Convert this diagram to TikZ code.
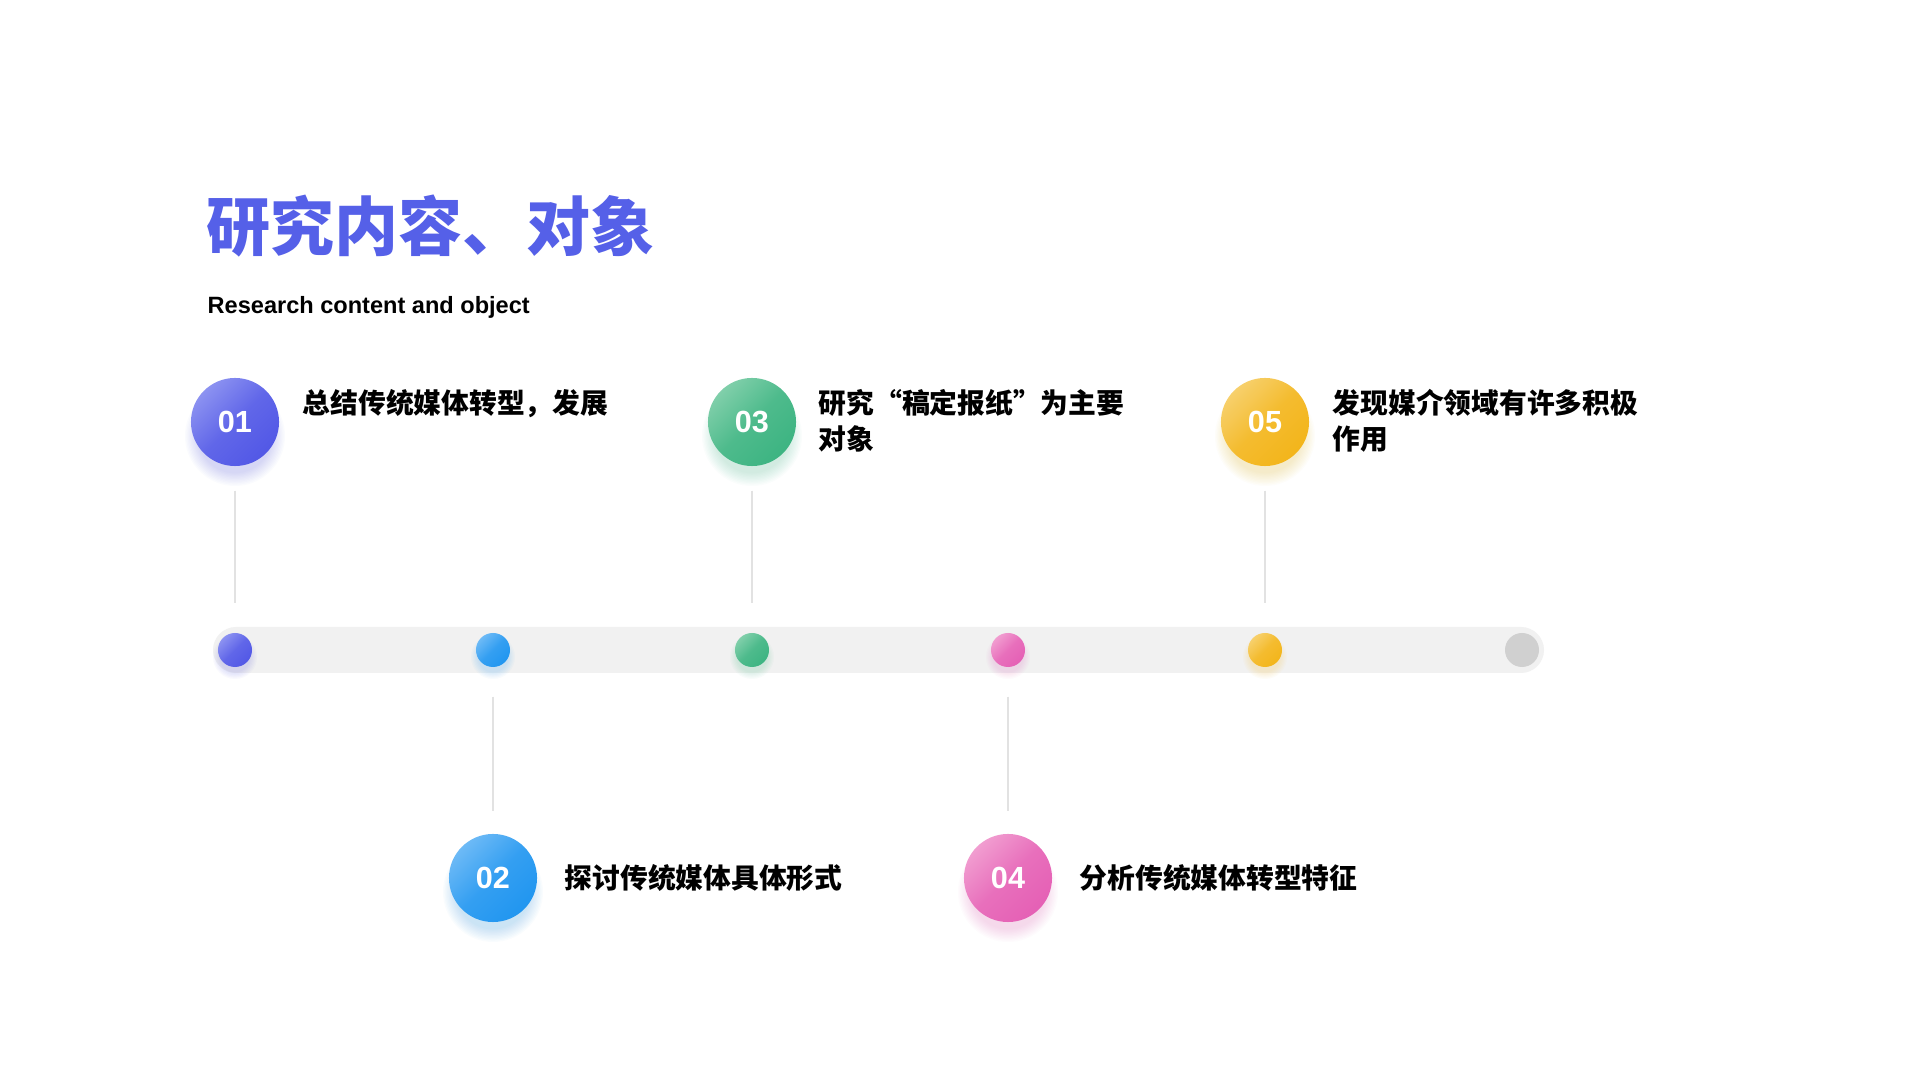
\documentclass[tikz,border=0pt]{standalone}
\usepackage{fontspec}
\setmainfont{Liberation Sans}
\newfontfamily\cjk{Noto Sans CJK SC}
\definecolor{titleblue}{HTML}{5560E8}
\definecolor{aD}{HTML}{5258E6}\definecolor{aL}{HTML}{8C92F1}
\definecolor{bD}{HTML}{2196F0}\definecolor{bL}{HTML}{6DBAF6}
\definecolor{cD}{HTML}{3DB482}\definecolor{cL}{HTML}{80CFAA}
\definecolor{dD}{HTML}{E560B5}\definecolor{dL}{HTML}{F19DD0}
\definecolor{eD}{HTML}{F3B51B}\definecolor{eL}{HTML}{F7D06C}
\definecolor{barfill}{HTML}{F1F1F1}
\definecolor{graydot}{HTML}{D0D0D0}
\definecolor{stemgray}{HTML}{E2E2E2}
\newcommand{\glowat}[4]{%
  \foreach \k in {0,...,9}{\fill[#4, opacity=0.025] (#1,#2) circle ({#3-\k*1.4});}}
\tikzset{
  numcircle/.style={circle, inner sep=0, minimum size=0.88cm, text=white,
    font=\fontsize{8.7}{9}\selectfont\bfseries},
  tdot/.style={circle, inner sep=0, minimum size=0.34cm},
  grad/.style n args={2}{shade, top color=#1, bottom color=#2, middle color=#2!75!#1, shading angle=45},
  stem/.style={draw=stemgray, line width=0.35pt},
  lbl/.style={inner sep=0, align=left, text=black,
    font=\cjk\bfseries\fontsize{7.9}{10.2}\selectfont},
}
\newcommand{\myLq}{\makebox[1em][r]{“}}
\newcommand{\myRq}{\makebox[1em][l]{”}}
\begin{document}
\begin{tikzpicture}[x=0.01cm, y=-0.01cm]
\useasboundingbox (0,0) rectangle (1920,1080);
\fill[white] (0,0) rectangle (1920,1080);

% title
\node[anchor=west, inner sep=0, text=titleblue, font=\cjk\bfseries\fontsize{18.2}{22}\selectfont] (title) at (206,226) {研究内容、对象};
\node[anchor=base west, inner sep=0, text=black, font=\fontsize{6.7}{8}\selectfont\bfseries] (subtitle) at (207,314) {Research content and object};

% timeline bar
\fill[barfill, rounded corners=0.23cm] (213,627) rectangle (1544,673);

% shadows
\glowat{235}{436}{50}{aD}
\glowat{493}{892}{50}{bD}
\glowat{752}{436}{50}{cD}
\glowat{1008}{892}{50}{dD}
\glowat{1265}{436}{50}{eD}
\foreach \xx/\cc in {235/aD,493/bD,752/cD,1008/dD,1265/eD}{
  \foreach \k in {0,...,5}{\fill[\cc, opacity=0.03] (\xx,657) circle ({22-\k*1.3});}}

% dots
\node[tdot, grad={aL}{aD}] (d1) at (235,650) {};
\node[tdot, grad={bL}{bD}] (d2) at (493,650) {};
\node[tdot, grad={cL}{cD}] (d3) at (752,650) {};
\node[tdot, grad={dL}{dD}] (d4) at (1008,650) {};
\node[tdot, grad={eL}{eD}] (d5) at (1265,650) {};
\node[tdot, fill=graydot] (d6) at (1522,650) {};

% number circles
\node[numcircle, grad={aL}{aD}] (n1) at (235,422) {01};
\node[numcircle, grad={bL}{bD}] (n2) at (493,878) {02};
\node[numcircle, grad={cL}{cD}] (n3) at (752,422) {03};
\node[numcircle, grad={dL}{dD}] (n4) at (1008,878) {04};
\node[numcircle, grad={eL}{eD}] (n5) at (1265,422) {05};

% stems
\draw[stem, shorten <=0.24cm, shorten >=0.29cm] (n1) -- (d1);
\draw[stem, shorten <=0.24cm, shorten >=0.29cm] (n3) -- (d3);
\draw[stem, shorten <=0.24cm, shorten >=0.29cm] (n5) -- (d5);
\draw[stem, shorten <=0.29cm, shorten >=0.22cm] (d2) -- (n2);
\draw[stem, shorten <=0.29cm, shorten >=0.22cm] (d4) -- (n4);

% labels
\node[lbl, anchor=north west] (t1) at (302,389) {总结传统媒体转型，发展};
\node[lbl, anchor=north west] (t3) at (818,389) {研究\myLq 稿定报纸\myRq 为主要\\对象};
\node[lbl, anchor=north west] (t5) at (1332,389) {发现媒介领域有许多积极\\作用};
\node[lbl, anchor=west] (t2) at (564,878) {探讨传统媒体具体形式};
\node[lbl, anchor=west] (t4) at (1079,878) {分析传统媒体转型特征};
\end{tikzpicture}
\end{document}
